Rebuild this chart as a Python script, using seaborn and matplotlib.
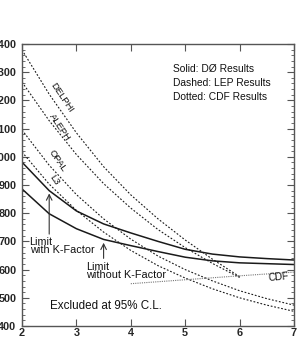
import matplotlib
matplotlib.use("Agg")
import matplotlib.pyplot as plt
from matplotlib.ticker import MultipleLocator
import seaborn as sns

sns.set_style("ticks")
plt.rcParams['font.family'] = ['Liberation Sans', 'DejaVu Sans']

# number of extra dimensions
n_half = [2, 2.5, 3, 3.5, 4, 4.5, 5, 5.5, 6, 6.5, 7]
n_lep6 = [2, 2.5, 3, 3.5, 4, 4.5, 5, 5.5, 6]

# D0 limits (GeV)
d0_with_k = [981, 880, 808, 762, 730, 700, 672, 655, 645, 639, 634]
d0_without_k = [886, 798, 745, 707, 685, 664, 644, 631, 624, 621, 618]

# LEP limits (GeV)
delphi = [1379, 1222, 1085, 965, 865, 780, 705, 637, 575]
aleph = [1265, 1128, 1008, 905, 818, 742, 678, 622, 572]
opal = [1095, 970, 866, 780, 708, 648, 600, 560, 525, 497, 474]
l3 = [1017, 903, 810, 733, 668, 614, 570, 532, 500, 474, 452]

# CDF limits (GeV)
n_cdf = [4, 6, 7]
cdf = [550, 578, 591]

fig = plt.figure(figsize=(2.99, 3.43), dpi=100)
ax = fig.add_axes([22 / 299, 1 - 326 / 343, 272 / 299, 282 / 343])

line_col = "#1a1a1a"
sns.lineplot(x=n_half, y=d0_with_k, ax=ax, color=line_col, lw=1.1)
sns.lineplot(x=n_half, y=d0_without_k, ax=ax, color=line_col, lw=1.1)
for vals, xs in [(delphi, n_lep6), (aleph, n_lep6), (opal, n_half), (l3, n_half)]:
    sns.lineplot(x=xs, y=vals, ax=ax, color=line_col, lw=0.8, linestyle=(0, (1.6, 1.6)))
sns.lineplot(x=n_cdf, y=cdf, ax=ax, color="#777777", lw=0.8, linestyle=(0, (1, 1)))

ax.set_xlim(2, 7)
ax.set_ylim(400, 1400)
ax.xaxis.set_major_locator(MultipleLocator(1))
ax.yaxis.set_major_locator(MultipleLocator(100))
ax.yaxis.set_minor_locator(MultipleLocator(20))
ax.tick_params(axis='both', which='both', direction='in', top=True, right=True,
               color="#555555")
ax.tick_params(axis='both', which='major', length=5, width=0.8)
ax.tick_params(axis='y', which='minor', length=2.5, width=0.6)
ax.tick_params(axis='x', which='major', pad=1.5)
ax.tick_params(axis='y', which='major', pad=4)
for lab in ax.get_xticklabels() + ax.get_yticklabels():
    lab.set_fontweight('bold')
    lab.set_fontsize(7.8)
for sp in ax.spines.values():
    sp.set_color("#555555")
    sp.set_linewidth(1.0)
ax.set_xlabel("")
ax.set_ylabel("")

txt_kw = dict(fontsize=7.4, color="#111111", va="center")
ax.text(4.77, 1310, "Solid: DØ Results", **txt_kw)
ax.text(4.77, 1262, "Dashed: LEP Results", **txt_kw)
ax.text(4.77, 1211, "Dotted: CDF Results", **txt_kw)

lab_kw = dict(fontsize=6.8, color="#111111", ha="center", va="center", rotation=-56)
ax.text(2.74, 1208, "DELPHI", **lab_kw)
ax.text(2.70, 1103, "ALEPH", **lab_kw)
ax.text(2.66, 985, "OPAL", **lab_kw)
ax.text(2.60, 918, "L3", **lab_kw)

ax.text(2.14, 716, "Limit\nwith K-Factor", fontsize=7.8, va="top", linespacing=0.8,
        color="#111111")
ax.annotate("", xy=(2.5, 880), xytext=(2.5, 716),
            arrowprops=dict(arrowstyle="->", color="#333333", lw=0.8))
ax.text(3.18, 628, "Limit\nwithout K-Factor", fontsize=7.8, va="top", linespacing=0.8,
        color="#111111")
ax.annotate("", xy=(3.5, 705), xytext=(3.5, 630),
            arrowprops=dict(arrowstyle="->", color="#333333", lw=0.8))
ax.text(2.52, 459, "Excluded at 95% C.L.", fontsize=8.4, color="#111111")
ax.text(6.52, 560, "CDF", fontsize=7.2, color="#111111", rotation=5)

fig.savefig("out.png", dpi=100)
